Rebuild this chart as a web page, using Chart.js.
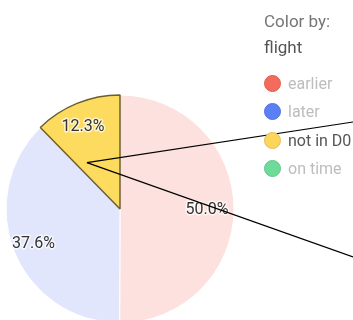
<!DOCTYPE html>
<html>
<head>
<meta charset="utf-8">
<script src="https://cdn.jsdelivr.net/npm/chart.js@4"></script>
<style>
    html, body { margin: 0; padding: 0; background: #fff; overflow: hidden; }
    #wrap { position: absolute; left: 0; top: 0; width: 353px; height: 330px; }
    #legend { position: absolute; left: 264px; top: 8px; font-family: Roboto, sans-serif; font-size: 16px; }
    .hdr { height: 26px; line-height: 26px; font-size: 17px; }
    .items { margin-top: 9px; }
    .item { height: 28.5px; display: flex; align-items: center; }
    .dot { width: 15px; height: 15px; border-radius: 50%; margin-right: 7px; border: 1px solid; flex: none; }
</style>
</head>
<body>
<div id="wrap"><canvas id="pie"></canvas></div>
<div id="legend">
    <div class="hdr" style="color:#757575">Color by:</div>
    <div class="hdr" style="color:#555">flight</div>
    <div class="items" id="legend-items"></div>
</div>
<script>
// Data
const categories = ['earlier', 'later', 'not in D0', 'on time'];
const shares = [50.0, 37.6, 12.3, 0];
const selected = [false, false, true, false];

// Colours
const baseColors = ['#f26b5b', '#5b7ff4', '#fcd65a', '#6ddc9a'];
const dotBorders = ['#dc5f51', '#5270dc', '#e0bd55', '#62c58b'];
const sliceColors = ['#fde1de', '#e1e6fc', '#fddb5e', '#e2f8eb'];

// Legend (html)
const legendEl = document.getElementById('legend-items');
categories.forEach((c, i) => {
    const row = document.createElement('div');
    row.className = 'item';
    row.innerHTML = `<span class="dot" style="background:${baseColors[i]};border-color:${dotBorders[i]}"></span>
        <span style="color:${selected[i] ? '#555' : '#bdbdbd'}">${c}</span>`;
    legendEl.appendChild(row);
});

// Percent labels inside the slices
const sliceLabels = {
    id: 'sliceLabels',
    afterDatasetsDraw(chart) {
        const ctx = chart.ctx;
        const meta = chart.getDatasetMeta(0);
        ctx.save();
        ctx.font = '16px Roboto, sans-serif';
        ctx.textAlign = 'center';
        ctx.textBaseline = 'middle';
        ctx.lineJoin = 'round';
        meta.data.forEach((arc, i) => {
            if (!shares[i]) return;
            const p = arc.getProps(['x', 'y', 'startAngle', 'endAngle', 'outerRadius'], true);
            const mid = (p.startAngle + p.endAngle) / 2;
            const r = p.outerRadius * 0.79;
            const x = p.x + Math.cos(mid) * r - 3;
            const y = p.y + Math.sin(mid) * r + 1;
            const txt = shares[i].toFixed(1) + '%';
            ctx.strokeStyle = 'rgba(255,255,255,0.7)';
            ctx.lineWidth = 3;
            ctx.strokeText(txt, x, y);
            ctx.fillStyle = '#333';
            ctx.fillText(txt, x, y);
        });
        ctx.restore();
    }
};

// Callout lines from the selected slice
const callout = {
    id: 'callout',
    afterDraw(chart, args, opts) {
        const meta = chart.getDatasetMeta(0);
        const idx = selected.indexOf(true);
        const p = meta.data[idx].getProps(['x', 'y', 'startAngle', 'endAngle', 'outerRadius'], true);
        const a = p.startAngle + (p.endAngle - p.startAngle) * 0.2;
        const ox = p.x + Math.cos(a) * p.outerRadius * 0.5;
        const oy = p.y + Math.sin(a) * p.outerRadius * 0.5;
        const ctx = chart.ctx;
        ctx.save();
        ctx.strokeStyle = '#000';
        ctx.lineWidth = 1.2;
        opts.targets.forEach(ty => {
            ctx.beginPath();
            ctx.moveTo(ox, oy);
            ctx.lineTo(chart.width, ty);
            ctx.stroke();
        });
        ctx.restore();
    }
};

new Chart(document.getElementById('pie'), {
    type: 'pie',
    data: {
        labels: categories,
        datasets: [{
            data: shares,
            backgroundColor: sliceColors,
            borderColor: selected.map(s => s ? '#6b5f30' : '#fff'),
            borderWidth: selected.map(s => s ? 1.5 : 1)
        }]
    },
    options: {
        responsive: true,
        maintainAspectRatio: false,
        animation: false,
        radius: 114,
        layout: { padding: { left: 6, top: 95, right: 119, bottom: 7 } },
        plugins: {
            legend: { display: false },
            tooltip: { enabled: false },
            callout: { targets: [122, 257] }
        }
    },
    plugins: [sliceLabels, callout]
});
</script>
</body>
</html>
